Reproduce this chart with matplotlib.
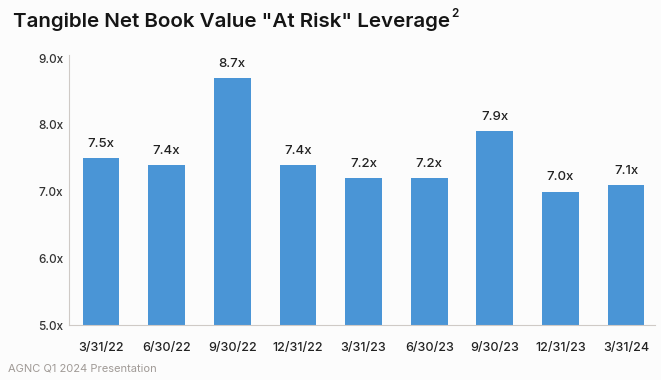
import matplotlib
matplotlib.use("Agg")
import matplotlib.pyplot as plt

categories = ["3/31/22", "6/30/22", "9/30/22", "12/31/22", "3/31/23", "6/30/23", "9/30/23", "12/31/23", "3/31/24"]
leverage = [7.5, 7.4, 8.7, 7.4, 7.2, 7.2, 7.9, 7.0, 7.1]
yticks = [5.0, 6.0, 7.0, 8.0, 9.0]

plt.rcParams['font.family'] = ['Inter', 'DejaVu Sans']

fig = plt.figure(figsize=(6.61, 3.8), dpi=100)
fig.patch.set_facecolor('#fcfcfc')
ax = fig.add_axes([69/661, 1-325/380, (655-69)/661, (325-55)/380])
ax.set_facecolor('#fcfcfc')

x = list(range(len(categories)))
ax.bar(x, [v - 5.0 for v in leverage], bottom=5.0, width=0.56, color='#4A95D6', zorder=2)
for xi, v in zip(x, leverage):
    ax.text(xi, v + 0.12, f"{v:.1f}x", ha='center', va='bottom', fontsize=9.5,
            fontweight='medium', color='#222222')

ax.set_xlim(-0.488, 8.44)
ax.set_ylim(5.0, 9.045)
ax.set_yticks(yticks)
ax.set_yticklabels([f"{t:.1f}x" for t in yticks], fontsize=8.5, fontweight='medium', color='#333333')
ax.set_xticks(x)
ax.set_xticklabels(categories, fontsize=9, fontweight='medium', color='#222222')
ax.tick_params(axis='y', length=0, pad=22)
ax.tick_params(axis='x', length=0, pad=12)
for lbl in ax.get_yticklabels():
    lbl.set_horizontalalignment('left')
for s in ['top', 'right']:
    ax.spines[s].set_visible(False)
ax.spines['left'].set_color('#cfcac6')
ax.spines['bottom'].set_color('#cfcac6')

title = fig.text(13/661, 1-22/380, 'Tangible Net Book Value "At Risk" Leverage', fontsize=14.8,
                 fontweight='semibold', color='#151515', va='center', ha='left')
fig.canvas.draw()
bb = title.get_window_extent()
fig.text((bb.x1 + 1)/661, 1-8/380, '2', fontsize=8.5, fontweight='semibold',
         color='#151515', va='top', ha='left')
fig.text(8/661, 1-369/380, 'AGNC Q1 2024 Presentation', fontsize=8, color='#a09a96', va='center', ha='left')

fig.savefig('out.png', dpi=100, facecolor=fig.get_facecolor())
